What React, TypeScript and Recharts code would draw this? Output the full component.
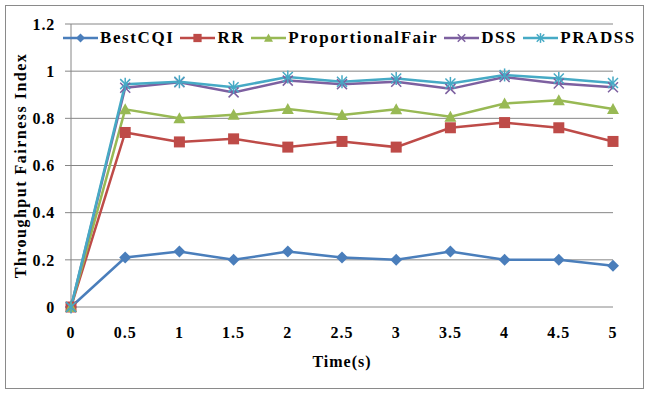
import React from 'react';
import { LineChart, Line, XAxis, YAxis, CartesianGrid, Legend, Label } from 'recharts';

const time = [0, 0.5, 1, 1.5, 2, 2.5, 3, 3.5, 4, 4.5, 5];
const bestCQI = [0, 0.21, 0.235, 0.2, 0.235, 0.21, 0.2, 0.235, 0.2, 0.2, 0.175];
const rr = [0, 0.74, 0.7, 0.713, 0.678, 0.702, 0.678, 0.76, 0.782, 0.76, 0.702];
const pf = [0, 0.838, 0.8, 0.815, 0.84, 0.814, 0.839, 0.807, 0.863, 0.877, 0.84];
const dss = [0, 0.93, 0.953, 0.91, 0.96, 0.945, 0.955, 0.925, 0.975, 0.948, 0.932];
const pradss = [0, 0.945, 0.955, 0.932, 0.975, 0.955, 0.969, 0.948, 0.984, 0.969, 0.95];

const xTicks = [0, 0.5, 1, 1.5, 2, 2.5, 3, 3.5, 4, 4.5, 5];
const yTicks = [0, 0.2, 0.4, 0.6, 0.8, 1, 1.2];

type Shape = 'diamond' | 'square' | 'triangle' | 'cross' | 'star';

const series: { key: string; name: string; color: string; shape: Shape }[] = [
  { key: 'bestCQI', name: 'BestCQI', color: '#4a7ebb', shape: 'diamond' },
  { key: 'rr', name: 'RR', color: '#be4b48', shape: 'square' },
  { key: 'pf', name: 'ProportionalFair', color: '#98b954', shape: 'triangle' },
  { key: 'dss', name: 'DSS', color: '#7d60a0', shape: 'cross' },
  { key: 'pradss', name: 'PRADSS', color: '#46aac5', shape: 'star' },
];

const data = time.map((t, i) => ({
  t,
  bestCQI: bestCQI[i],
  rr: rr[i],
  pf: pf[i],
  dss: dss[i],
  pradss: pradss[i],
}));

const FONT = '"Liberation Serif", "Times New Roman", serif';
const GRID = '#868686';

function Marker({ cx, cy, shape, color, s = 1 }: { cx: number; cy: number; shape: Shape; color: string; s?: number }) {
  if (cx == null || cy == null) return null;
  switch (shape) {
    case 'diamond':
      return (
        <polygon
          points={`${cx},${cy - 6 * s} ${cx + 6 * s},${cy} ${cx},${cy + 6 * s} ${cx - 6 * s},${cy}`}
          fill={color}
        />
      );
    case 'square':
      return <rect x={cx - 5.5 * s} y={cy - 5.5 * s} width={11 * s} height={11 * s} fill={color} />;
    case 'triangle':
      return (
        <polygon
          points={`${cx},${cy - 6 * s} ${cx + 6 * s},${cy + 5 * s} ${cx - 6 * s},${cy + 5 * s}`}
          fill={color}
        />
      );
    case 'cross':
      return (
        <g stroke={color} strokeWidth={1.5}>
          <line x1={cx - 5 * s} y1={cy - 5 * s} x2={cx + 5 * s} y2={cy + 5 * s} />
          <line x1={cx - 5 * s} y1={cy + 5 * s} x2={cx + 5 * s} y2={cy - 5 * s} />
        </g>
      );
    case 'star':
      return (
        <g stroke={color} strokeWidth={1.5}>
          <line x1={cx - 5 * s} y1={cy - 5 * s} x2={cx + 5 * s} y2={cy + 5 * s} />
          <line x1={cx - 5 * s} y1={cy + 5 * s} x2={cx + 5 * s} y2={cy - 5 * s} />
          <line x1={cx} y1={cy - 6.5 * s} x2={cx} y2={cy + 6.5 * s} />
        </g>
      );
  }
  return null;
}

const renderLegend = () => (
  <div style={{ display: 'flex', alignItems: 'center', fontFamily: FONT, fontWeight: 'bold', fontSize: 17, letterSpacing: 1.6, color: '#000', whiteSpace: 'nowrap' }}>
    {series.map((s) => (
      <div key={s.key} style={{ display: 'flex', alignItems: 'center', marginRight: 6 }}>
        <svg width={35} height={14} style={{ display: 'block' }}>
          <line x1={0} y1={7} x2={35} y2={7} stroke={s.color} strokeWidth={2.5} />
          <Marker cx={17.5} cy={7} shape={s.shape} color={s.color} s={0.75} />
        </svg>
        <span style={{ marginLeft: 2 }}>{s.name}</span>
      </div>
    ))}
  </div>
);

const App: React.FC = () => {
  return (
    <div style={{ position: 'absolute', left: 0, top: 0, width: 645, height: 394, background: '#fff' }}>
      <div
        style={{
          position: 'absolute',
          left: 5,
          top: 5,
          width: 639,
          height: 384,
          border: '1px solid #8a8a8a',
          boxSizing: 'border-box',
        }}
      />
      <LineChart width={645} height={394} data={data} margin={{ top: 24, right: 32, bottom: 37, left: 0 }}>
        <CartesianGrid vertical={false} stroke={GRID} />
        <XAxis
          dataKey="t"
          type="number"
          domain={[0, 5]}
          ticks={xTicks}
          height={50}
          axisLine={false}
          tickLine={false}
          tickSize={0}
          tickMargin={20}
          tick={{ fill: '#000', fontFamily: FONT, fontWeight: 'bold', fontSize: 16, letterSpacing: 1 }}
        >
          <Label
            content={({ viewBox }: any) => (
              <text
                x={viewBox.x + viewBox.width / 2}
                y={viewBox.y + 60}
                textAnchor="middle"
                fontFamily={FONT}
                fontWeight="bold"
                fontSize={16}
                letterSpacing={1}
                fill="#000"
              >
                Time(s)
              </text>
            )}
          />
        </XAxis>
        <YAxis
          type="number"
          domain={[0, 1.2]}
          ticks={yTicks}
          width={71}
          axisLine={{ stroke: GRID }}
          tickLine={{ stroke: GRID }}
          tickSize={6}
          tickMargin={10}
          tick={{ fill: '#000', fontFamily: FONT, fontWeight: 'bold', fontSize: 16, letterSpacing: 0.8 }}
        >
          <Label
            content={({ viewBox }: any) => {
              const cy = viewBox.y + viewBox.height / 2;
              return (
                <text
                  x={20}
                  y={cy}
                  transform={`rotate(-90, 20, ${cy})`}
                  textAnchor="middle"
                  dominantBaseline="central"
                  fontFamily={FONT}
                  fontWeight="bold"
                  fontSize={16}
                  letterSpacing={1.5}
                  fill="#000"
                >
                  Throughput Fairness Index
                </text>
              );
            }}
          />
        </YAxis>
        <Legend
          layout="horizontal"
          verticalAlign="middle"
          align="center"
          content={renderLegend}
          wrapperStyle={{ position: 'absolute', left: 63, top: 28, width: 580, height: 20 }}
        />
        {series.map((s) => (
          <Line
            key={s.key}
            type="linear"
            dataKey={s.key}
            name={s.name}
            stroke={s.color}
            strokeWidth={2.5}
            isAnimationActive={false}
            dot={(props: any) => (
              <g key={`${s.key}-${props.index}`}>
                <Marker cx={props.cx} cy={props.cy} shape={s.shape} color={s.color} />
              </g>
            )}
            activeDot={false}
          />
        ))}
      </LineChart>
    </div>
  );
};

export default App;
